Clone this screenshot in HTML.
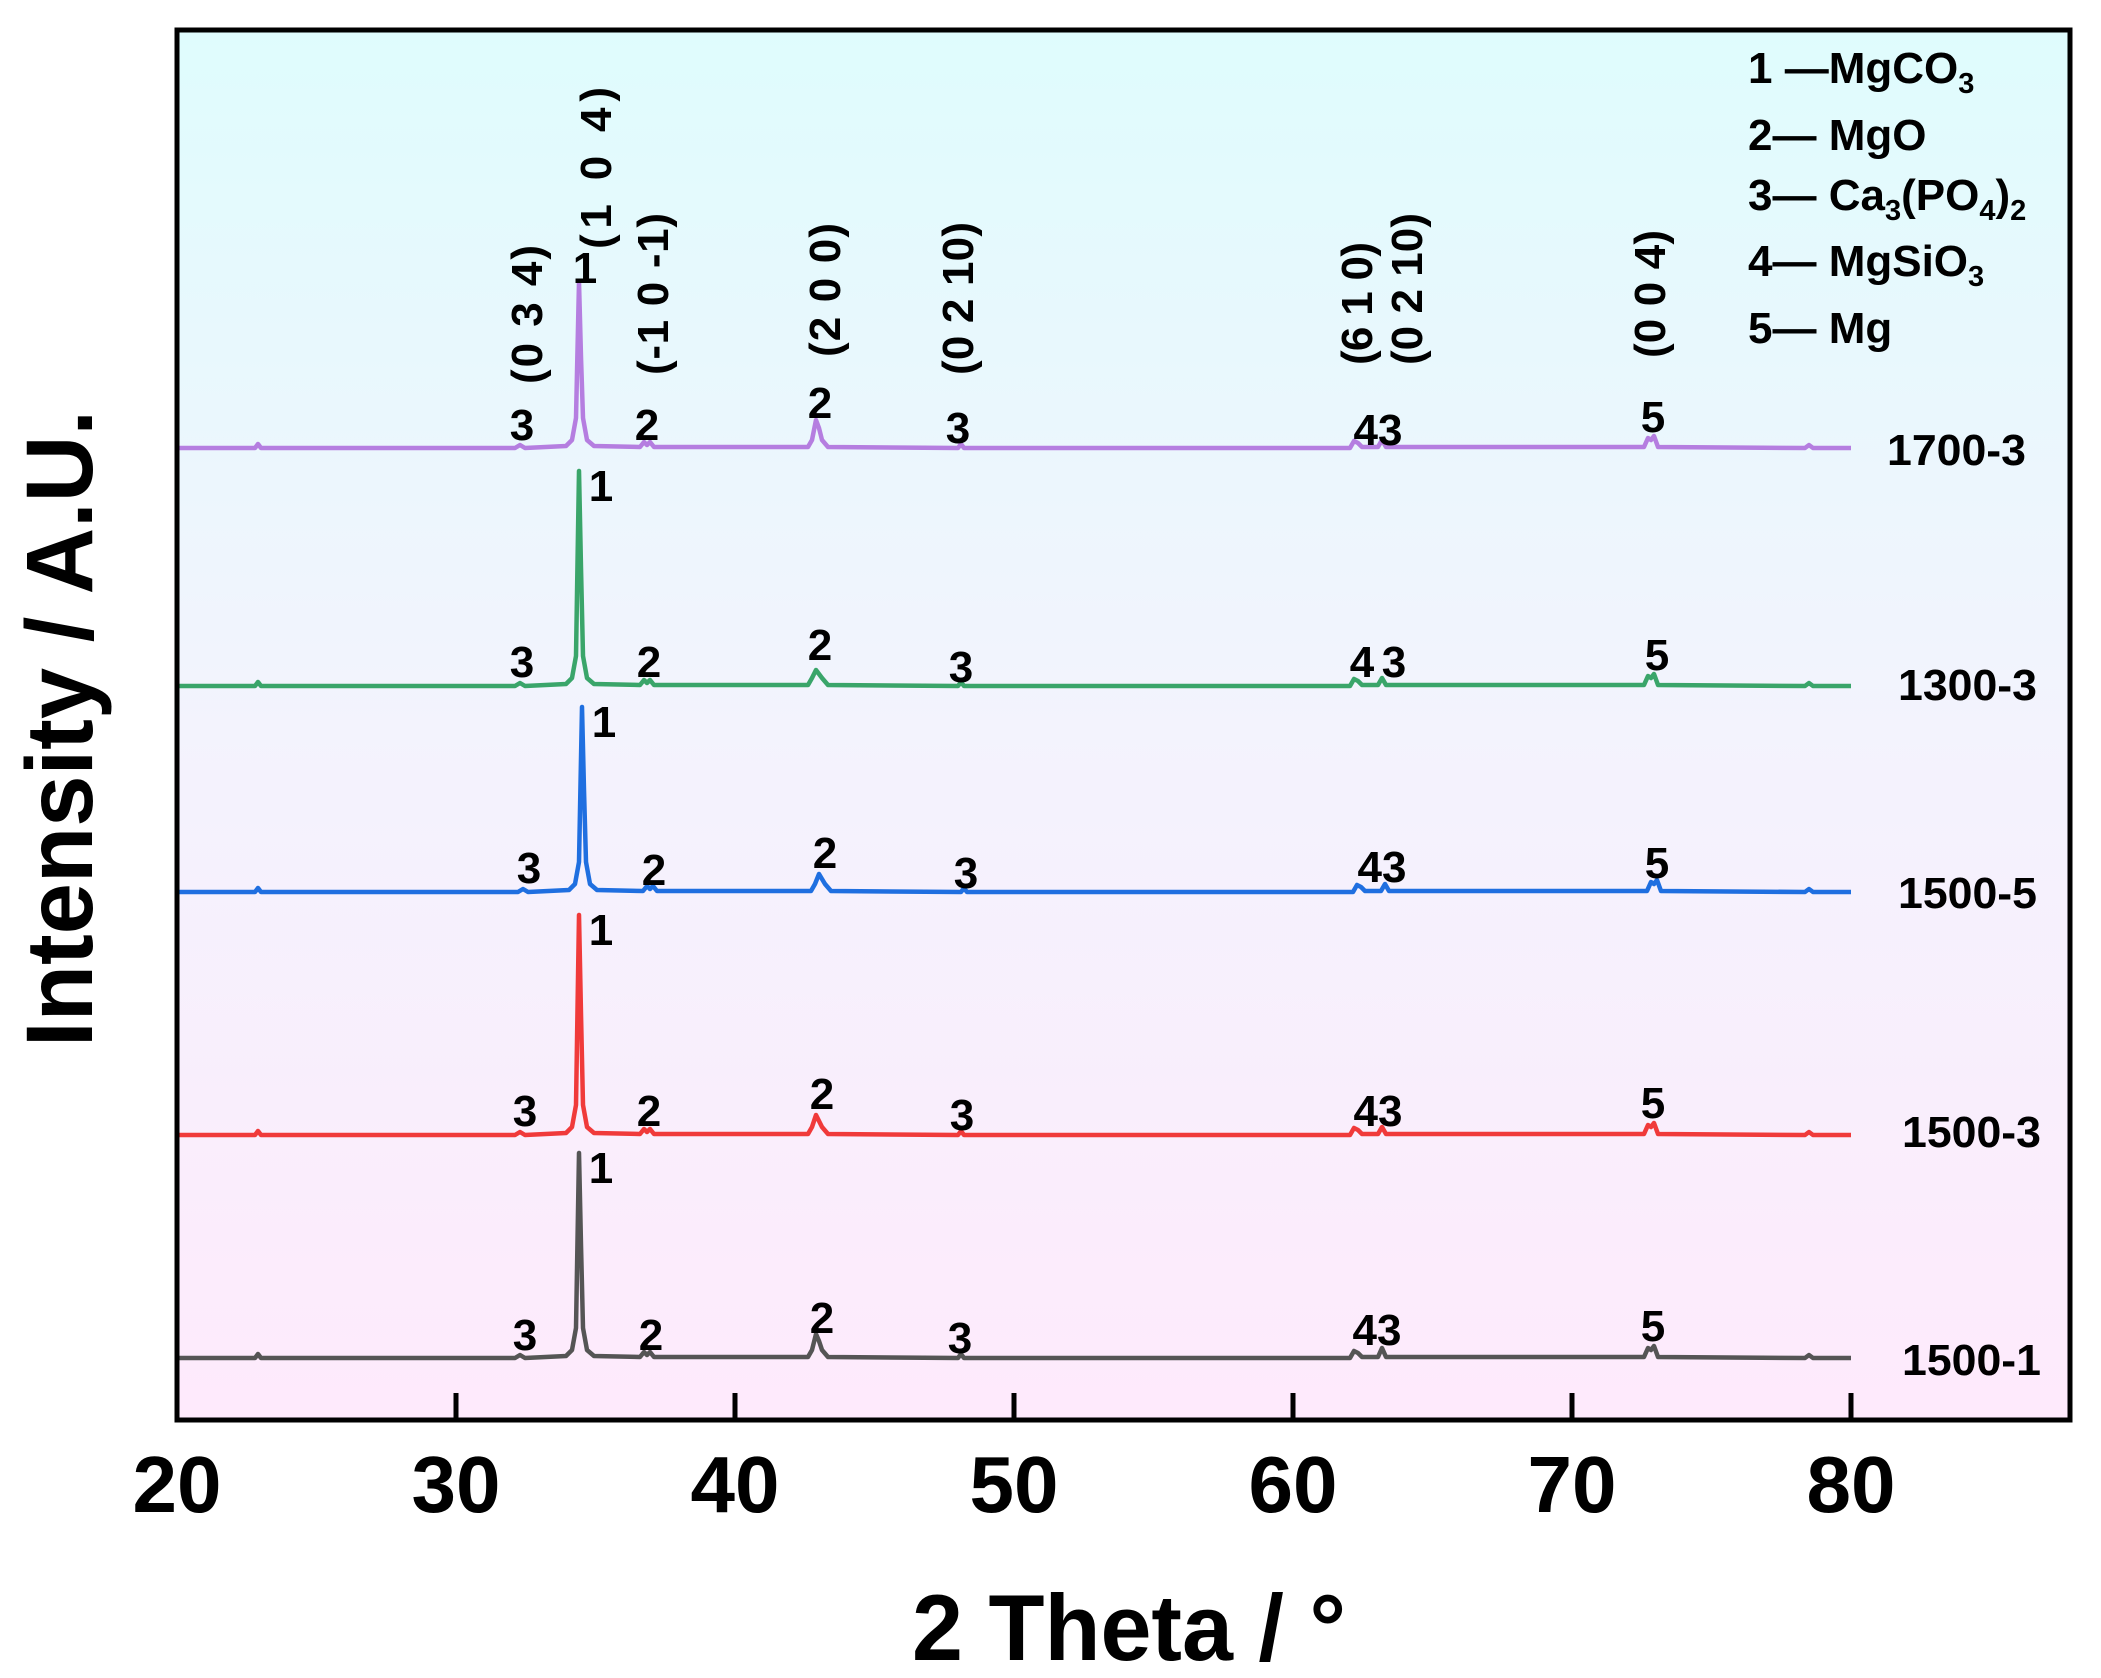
<!DOCTYPE html>
<html><head><meta charset="utf-8"><style>
html,body{margin:0;padding:0;background:#fff}
svg{display:block}
text{font-family:"Liberation Sans",Arial,sans-serif;font-weight:bold;fill:#000}
</style></head><body>
<svg width="2101" height="1678" viewBox="0 0 2101 1678" xmlns="http://www.w3.org/2000/svg">
<defs><linearGradient id="bg" x1="0" y1="0" x2="0" y2="1">
<stop offset="0" stop-color="#dffcfd"/><stop offset="0.5" stop-color="#f3f3fd"/><stop offset="1" stop-color="#feeafc"/></linearGradient></defs>
<rect x="177" y="30" width="1893" height="1390" fill="url(#bg)"/>
<g fill="none" stroke-width="4.5" stroke-linejoin="round">
<path stroke="#b57ee0" d="M177,448 L255,448 L258,444 L261,448 L515,448 L520,445 L525,448 L566,446 L572,440 L576,418 L579,282 L581,357 L583,418 L587,440 L594,446 L640,447 L644,442 L647,445 L650,442 L654,447 L808,447 L812,440 L816,420 L819,428 L822,440 L828,447 L958,448 L961,444 L964,448 L1350,448 L1354,441 L1358,443 L1362,447 L1378,447 L1382,440 L1386,447 L1644,447 L1648,438 L1651,440 L1654,436 L1658,447 L1805,448 L1809,445 L1813,448 L1851,448"/>
<path stroke="#3aa56a" d="M177,686 L255,686 L258,682 L261,686 L515,686 L520,683 L525,686 L566,684 L572,678 L576,656 L579,471 L581,568 L583,656 L587,678 L594,684 L640,685 L644,680 L647,683 L650,680 L654,685 L808,685 L812,678 L816,670 L819,674 L822,678 L828,685 L958,686 L961,682 L964,686 L1350,686 L1354,679 L1358,681 L1362,685 L1378,685 L1382,678 L1386,685 L1644,685 L1648,676 L1651,678 L1654,674 L1658,685 L1805,686 L1809,683 L1813,686 L1851,686"/>
<path stroke="#1f6fe0" d="M177,892 L255,892 L258,888 L261,892 L518,892 L523,889 L528,892 L569,890 L575,884 L579,862 L582,707 L584,790 L586,862 L590,884 L597,890 L643,891 L647,886 L650,889 L653,886 L657,891 L811,891 L815,884 L819,874 L822,879 L825,884 L831,891 L961,892 L964,888 L967,892 L1353,892 L1357,885 L1361,887 L1365,891 L1381,891 L1385,884 L1389,891 L1647,891 L1651,882 L1654,884 L1657,880 L1661,891 L1805,892 L1809,889 L1813,892 L1851,892"/>
<path stroke="#f03a3a" d="M177,1135 L255,1135 L258,1131 L261,1135 L515,1135 L520,1132 L525,1135 L566,1133 L572,1127 L576,1105 L579,915 L581,1014 L583,1105 L587,1127 L594,1133 L640,1134 L644,1129 L647,1132 L650,1129 L654,1134 L808,1134 L812,1127 L816,1115 L819,1121 L822,1127 L828,1134 L958,1135 L961,1131 L964,1135 L1350,1135 L1354,1128 L1358,1130 L1362,1134 L1378,1134 L1382,1127 L1386,1134 L1644,1134 L1648,1125 L1651,1127 L1654,1123 L1658,1134 L1805,1135 L1809,1132 L1813,1135 L1851,1135"/>
<path stroke="#555555" d="M177,1358 L255,1358 L258,1354 L261,1358 L515,1358 L520,1355 L525,1358 L566,1356 L572,1350 L576,1328 L579,1153 L581,1245 L583,1328 L587,1350 L594,1356 L640,1357 L644,1352 L647,1355 L650,1352 L654,1357 L808,1357 L812,1350 L816,1334 L819,1341 L822,1350 L828,1357 L958,1358 L961,1354 L964,1358 L1350,1358 L1354,1351 L1358,1353 L1362,1357 L1378,1357 L1382,1348 L1386,1357 L1644,1357 L1648,1348 L1651,1350 L1654,1346 L1658,1357 L1805,1358 L1809,1355 L1813,1358 L1851,1358"/>
</g>
<rect x="177" y="30" width="1893" height="1390" fill="none" stroke="#000" stroke-width="5"/>
<g stroke="#000" stroke-width="5">
<line x1="456" y1="1420" x2="456" y2="1393"/><line x1="735" y1="1420" x2="735" y2="1393"/><line x1="1014" y1="1420" x2="1014" y2="1393"/><line x1="1293" y1="1420" x2="1293" y2="1393"/><line x1="1572" y1="1420" x2="1572" y2="1393"/><line x1="1851" y1="1420" x2="1851" y2="1393"/>
</g>
<g font-size="80" text-anchor="middle">
<text x="177" y="1512">20</text><text x="456" y="1512">30</text><text x="735" y="1512">40</text><text x="1014" y="1512">50</text><text x="1293" y="1512">60</text><text x="1572" y="1512">70</text><text x="1851" y="1512">80</text>
</g>
<text x="912" y="1660" font-size="94" textLength="434" lengthAdjust="spacingAndGlyphs">2 Theta / °</text>
<text transform="translate(92,1047) rotate(-90)" font-size="95" textLength="637" lengthAdjust="spacingAndGlyphs">Intensity / A.U.</text>
<g font-size="44" text-anchor="middle">
<text x="522" y="440">3</text><text x="585" y="283">1</text><text x="647" y="440">2</text><text x="820" y="418">2</text><text x="958" y="443">3</text><text x="1378" y="445">43</text><text x="1653" y="432">5</text>
<text x="522" y="677">3</text><text x="601" y="501">1</text><text x="649" y="677">2</text><text x="820" y="660">2</text><text x="961" y="682">3</text><text x="1362" y="677">4</text><text x="1394" y="677">3</text><text x="1657" y="670">5</text>
<text x="529" y="883">3</text><text x="604" y="737">1</text><text x="654" y="885">2</text><text x="825" y="868">2</text><text x="966" y="888">3</text><text x="1382" y="882">43</text><text x="1657" y="878">5</text>
<text x="525" y="1126">3</text><text x="601" y="945">1</text><text x="649" y="1126">2</text><text x="822" y="1109">2</text><text x="962" y="1130">3</text><text x="1378" y="1126">43</text><text x="1653" y="1118">5</text>
<text x="525" y="1350">3</text><text x="601" y="1183">1</text><text x="651" y="1350">2</text><text x="822" y="1333">2</text><text x="960" y="1353">3</text><text x="1377" y="1345">43</text><text x="1653" y="1341">5</text>
</g>
<g font-size="44">
<text transform="translate(542,384) rotate(-90)" textLength="139" lengthAdjust="spacing">(0 3 4)</text>
<text transform="translate(611,249) rotate(-90)" textLength="162" lengthAdjust="spacing">(1 0 4)</text>
<text transform="translate(668,375) rotate(-90)" textLength="162" lengthAdjust="spacing">(-1 0 -1)</text>
<text transform="translate(840,357) rotate(-90)" textLength="134" lengthAdjust="spacing">(2 0 0)</text>
<text transform="translate(973,375) rotate(-90)" textLength="153" lengthAdjust="spacing">(0 2 10)</text>
<text transform="translate(1372,365) rotate(-90)" textLength="123" lengthAdjust="spacing">(6 1 0)</text>
<text transform="translate(1422,365) rotate(-90)" textLength="152" lengthAdjust="spacing">(0 2 10)</text>
<text transform="translate(1665,358) rotate(-90)" textLength="128" lengthAdjust="spacing">(0 0 4)</text>
</g>
<g font-size="44">
<text x="1748" y="83">1 —MgCO<tspan font-size="29" dy="10">3</tspan></text>
<text x="1748" y="150">2— MgO</text>
<text x="1748" y="210">3— Ca<tspan font-size="29" dy="10">3</tspan><tspan dy="-10">(PO</tspan><tspan font-size="29" dy="10">4</tspan><tspan dy="-10">)</tspan><tspan font-size="29" dy="10">2</tspan></text>
<text x="1748" y="276">4— MgSiO<tspan font-size="29" dy="10">3</tspan></text>
<text x="1748" y="343">5— Mg</text>
</g>
<g font-size="44">
<text x="1887" y="465" textLength="139" lengthAdjust="spacingAndGlyphs">1700-3</text>
<text x="1898" y="700" textLength="139" lengthAdjust="spacingAndGlyphs">1300-3</text>
<text x="1898" y="908" textLength="139" lengthAdjust="spacingAndGlyphs">1500-5</text>
<text x="1902" y="1147" textLength="139" lengthAdjust="spacingAndGlyphs">1500-3</text>
<text x="1902" y="1375" textLength="139" lengthAdjust="spacingAndGlyphs">1500-1</text>
</g>
</svg>
</body></html>
